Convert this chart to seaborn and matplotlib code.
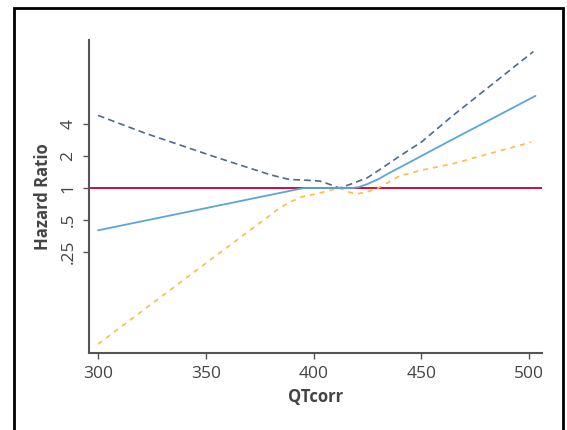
import matplotlib
matplotlib.use('Agg')
import matplotlib.pyplot as plt
import pandas as pd
import seaborn as sns
from matplotlib.patches import Rectangle

# hazard ratio curves (QTcorr vs HR)
upper_x = [300, 322, 354, 380, 389, 395, 403, 407, 412, 418, 425, 432, 440, 450, 464, 502]
upper_hr = [4.82, 3.27, 1.97, 1.33, 1.20, 1.19, 1.16, 1.09, 1.0, 1.10, 1.25, 1.55, 2.0, 2.7, 4.69, 19.2]

mid_x = [300, 395.5, 418, 421, 425, 430, 435, 440, 450, 464, 503]
mid_hr = [0.40, 1.0, 1.0, 1.02, 1.09, 1.21, 1.38, 1.56, 2.0, 2.83, 7.36]

lower_x = [300, 352, 378, 383, 388, 394, 403, 412, 416, 420, 425, 430, 435, 440, 450, 464, 501]
lower_hr = [0.034, 0.21, 0.52, 0.62, 0.72, 0.82, 0.90, 1.0, 0.92, 0.88, 0.92, 1.0, 1.14, 1.30, 1.47, 1.68, 2.7]

ref_x = [295.8, 506]
ref_hr = [1, 1]

yticks = [0.25, 0.5, 1, 2, 4]
ytick_labels = ['.25', '.5', '1', '2', '4']
xticks = [300, 350, 400, 450, 500]

sns.set_style('white')
plt.rcParams['font.family'] = ['Open Sans', 'DejaVu Sans']

fig = plt.figure(figsize=(5.67, 4.30), dpi=100)
ax = fig.add_axes([89 / 567, 1 - 353 / 430, (542 - 89) / 567, (353 - 40) / 430])

upper = pd.DataFrame({'x': upper_x, 'hr': upper_hr})
mid = pd.DataFrame({'x': mid_x, 'hr': mid_hr})
lower = pd.DataFrame({'x': lower_x, 'hr': lower_hr})
ref = pd.DataFrame({'x': ref_x, 'hr': ref_hr})

sns.lineplot(data=ref, x='x', y='hr', color='#c8103c', lw=1.4, ax=ax)
sns.lineplot(data=upper, x='x', y='hr', color='#4e6a8e', lw=1.2, ax=ax,
             linestyle=(0, (4, 2.5)))
sns.lineplot(data=lower, x='x', y='hr', color='#ffbb44', lw=1.2, ax=ax,
             linestyle=(0, (3, 3)))
sns.lineplot(data=mid, x='x', y='hr', color='#5aa5dc', lw=1.3, ax=ax)

ax.set_yscale('log')
ax.set_ylim(2 ** -5.156, 2 ** 4.625)
ax.set_xlim(295.8, 506)
ax.set_yticks(yticks)
ax.set_yticklabels(ytick_labels, rotation=90, va='center')
ax.minorticks_off()
ax.set_xticks(xticks)

sns.despine(ax=ax)
for s in ['left', 'bottom']:
    ax.spines[s].set_color('#555555')
    ax.spines[s].set_linewidth(1.5)
ax.tick_params(axis='both', direction='out', length=4, width=1, color='#555555',
               labelcolor='#444444', labelsize=12.5, left=True, bottom=True, pad=5)

ax.set_xlabel('QTcorr', fontsize=12, fontweight='bold', color='#444444', labelpad=5)
ax.set_ylabel('Hazard Ratio', fontsize=12, fontweight='bold', color='#444444', labelpad=6)

# outer frame around the figure (bottom edge falls off the image)
fig.patches.append(Rectangle((14 / 567, -0.1), (563 - 14) / 567, 1.1 - 8 / 430,
                             transform=fig.transFigure, fill=False,
                             edgecolor='black', lw=2, zorder=0))

fig.savefig('out.png', dpi=100)
